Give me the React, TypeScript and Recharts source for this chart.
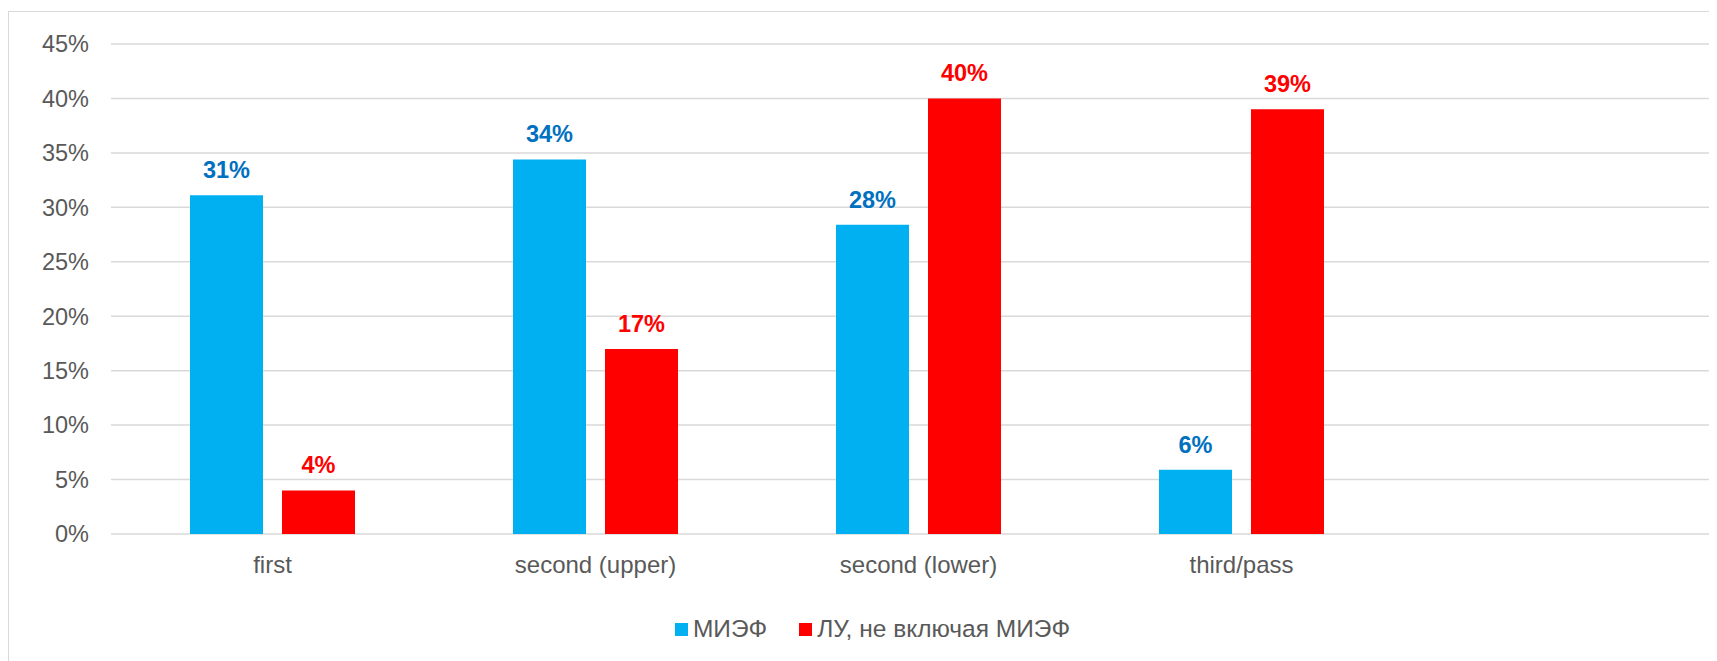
import React from 'react';
import { BarChart, Bar, XAxis, YAxis, CartesianGrid, Legend, LabelList } from 'recharts';

// categories (last slot is an empty category, as in the source sheet)
const categories = ['first', 'second (upper)', 'second (lower)', 'third/pass', ''];
const miefValues = [31.1, 34.4, 28.4, 5.9, null];
const luValues = [4.0, 17.0, 40.0, 39.0, null];
const yTicks = [0, 5, 10, 15, 20, 25, 30, 35, 40, 45];

const seriesNames = { mief: 'МИЭФ', lu: 'ЛУ, не включая МИЭФ' };

const BLUE = '#00B0F0';
const BLUE_LABEL = '#0070C0';
const RED = '#FF0000';
const GRID = '#D9D9D9';
const TEXT = '#595959';
const FONT = '"Liberation Sans", Arial, sans-serif';

const data = categories.map((name, i) => ({
    name,
    mief: miefValues[i],
    lu: luValues[i],
}));

const pct = (v: any) => (v === null || v === undefined ? '' : `${Math.round(v)}%`);

const LegendContent = () => (
    <div style={{ display: 'flex', justifyContent: 'center', alignItems: 'center', height: 30, lineHeight: '30px', fontFamily: FONT, fontSize: 24.5, color: TEXT }}>
        <span style={{ width: 13, height: 13, background: BLUE, display: 'inline-block', marginRight: 5 }} />
        <span style={{ marginRight: 32 }}>{seriesNames.mief}</span>
        <span style={{ width: 13, height: 13, background: RED, display: 'inline-block', marginRight: 5 }} />
        <span>{seriesNames.lu}</span>
    </div>
);

export default function App() {
    return (
        <div style={{ width: 1709, height: 653, overflow: 'hidden', paddingTop: 3, boxSizing: 'border-box' }}>
            <div style={{ width: 1727, height: 700, border: `1px solid ${GRID}`, background: '#fff' }}>
                <BarChart
                    width={1727}
                    height={700}
                    data={data}
                    margin={{ top: 32, right: 10, bottom: 148, left: 0 }}
                    barGap={19}
                    style={{ fontFamily: FONT }}
                >
                    <CartesianGrid vertical={false} stroke={GRID} strokeWidth={1.5} />
                    <XAxis
                        dataKey="name"
                        axisLine={false}
                        tickLine={false}
                        tickSize={0}
                        tickMargin={22}
                        height={30}
                        interval={0}
                        tick={{ fill: TEXT, fontSize: 24, fontFamily: FONT }}
                    />
                    <YAxis
                        domain={[0, 45]}
                        ticks={yTicks}
                        tickFormatter={(v) => `${v}%`}
                        axisLine={false}
                        tickLine={false}
                        tickSize={0}
                        tickMargin={22}
                        width={102}
                        tick={{ fill: TEXT, fontSize: 23.5, fontFamily: FONT }}
                    />
                    <Legend
                        verticalAlign="middle"
                        align="center"
                        layout="horizontal"
                        content={<LegendContent />}
                        wrapperStyle={{ top: 602, left: 0, width: 1727 }}
                    />
                    <Bar dataKey="mief" name={seriesNames.mief} fill={BLUE} barSize={73} isAnimationActive={false}>
                        <LabelList dataKey="mief" position="top" offset={17} formatter={pct} fill={BLUE_LABEL} fontSize={23.5} fontWeight="bold" fontFamily={FONT} />
                    </Bar>
                    <Bar dataKey="lu" name={seriesNames.lu} fill={RED} barSize={73} isAnimationActive={false}>
                        <LabelList dataKey="lu" position="top" offset={17} formatter={pct} fill={RED} fontSize={23.5} fontWeight="bold" fontFamily={FONT} />
                    </Bar>
                </BarChart>
            </div>
        </div>
    );
}
